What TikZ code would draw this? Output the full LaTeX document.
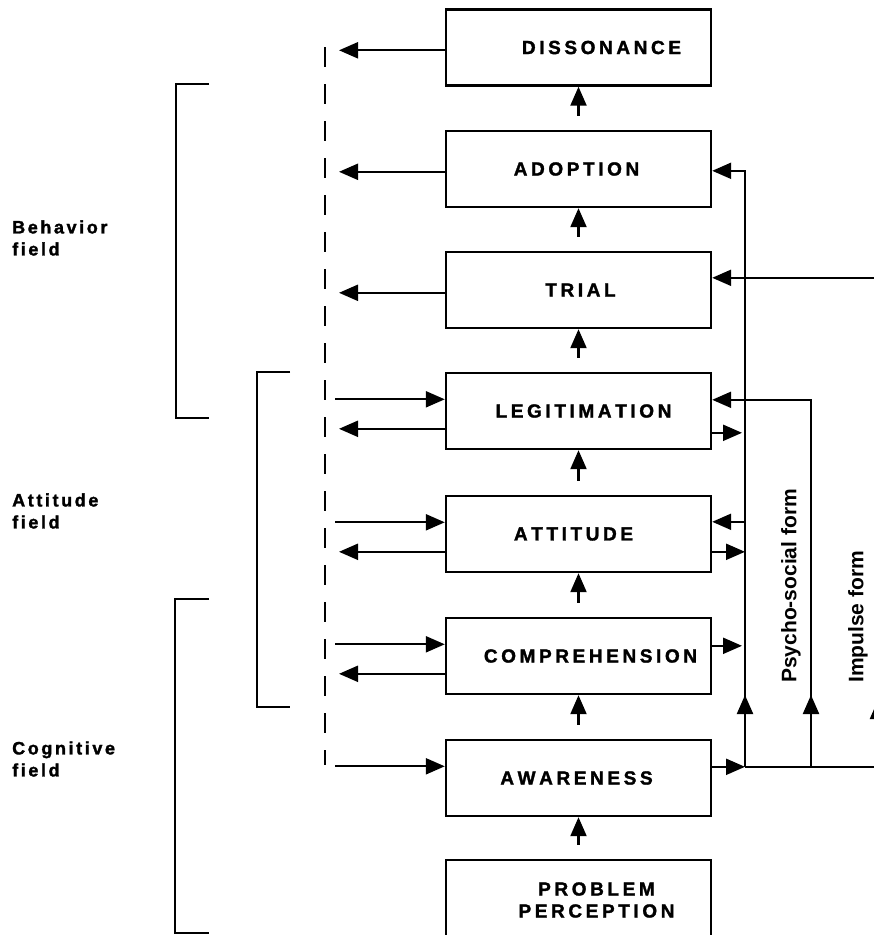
\documentclass[tikz,border=0pt]{standalone}
\usepackage{fontspec}
\setmainfont{Liberation Sans}
\newfontfamily\heavysans[UprightFont=* Bold]{Liberation Sans}
\newfontfamily\blacksans[UprightFont=* Bold, FakeBold=1.6]{Liberation Sans}
\usetikzlibrary{arrows.meta}
% spread the letters of a word apart by a fixed kern
\makeatletter
\newcommand\spreadword[2]{\@tfor\ch:=#2\do{\ch\kern#1}\unkern}
\makeatother
\newcommand\stagetext[1]{\spreadword{3.6pt}{#1}}
\newcommand\fieldtext[1]{\spreadword{2.6pt}{#1}}
\begin{document}
\begin{tikzpicture}[x=1pt, y=-1pt,
  stage/.style={draw, line width=2.4pt, minimum width=265pt, minimum height=76pt,
    inner sep=0pt, align=center, font=\blacksans\fontsize{19}{22}\selectfont},
  flow/.style={line width=2.2pt, -{Triangle[length=19pt,width=16pt]}},
  wire/.style={line width=2.2pt},
  feedback/.style={line width=2.6pt, dash pattern=on 20pt off 17pt},
  field/.style={line width=2.4pt},
  fieldname/.style={font=\blacksans\fontsize{18}{22}\selectfont,
    align=left, anchor=west, inner sep=0pt},
  formname/.style={font=\heavysans\fontsize{21}{24}\selectfont, rotate=90,
    anchor=west, inner sep=0pt},
]
\clip (0,0) rectangle (874,935);

% stages of the hierarchy
\node[stage] (dis) at (578.5,47.5) {\hspace*{46pt}\stagetext{DISSONANCE}};
\node[stage] (ado) at (578.5,169) {\stagetext{ADOPTION}\hspace*{4pt}};
\node[stage] (tri) at (578.5,290) {\hspace*{4pt}\stagetext{TRIAL}};
\node[stage] (leg) at (578.5,411) {\hspace*{10pt}\stagetext{LEGITIMATION}};
\node[stage] (att) at (578.5,534) {\stagetext{ATTITUDE}\hspace*{10pt}};
\node[stage] (com) at (578.5,656) {\hspace*{24pt}\stagetext{COMPREHENSION}};
\node[stage] (awa) at (578.5,778) {\stagetext{AWARENESS}\hspace*{4pt}};
\node[stage, minimum height=80pt] (pro) at (578.5,900)
  {\hspace*{36pt}\stagetext{PROBLEM}\\\hspace*{36pt}\stagetext{PERCEPTION}};

% upward sequence
\foreach \lo/\hi in {ado/dis,tri/ado,leg/tri,att/leg,com/att,awa/com,pro/awa}
  \draw[flow, shorten <=14pt] (\lo.north) -- (\hi.south);

% reference columns
\coordinate (lTip) at (339,0);
\coordinate (lTail) at (335,0);
\coordinate (rTip) at (742,0);
\coordinate (bus) at (745,0);
\coordinate (psy) at (811,0);
\coordinate (imp) at (878,0);
\coordinate (upA) at (0,695);
\coordinate (upB) at (0,700);
\coordinate (dashTop) at (325,47);
\coordinate (dashBot) at (325,765);

% attachment points on the box sides
\foreach \b in {dis,ado,tri}
  \path ([yshift=-42pt]\b.north west) coordinate (\b-wout);
\foreach \b in {leg,att,com,awa}
  \path ([yshift=-27.5pt]\b.north west) coordinate (\b-win);
\foreach \b in {leg,att,com}
  \path ([yshift=-57pt]\b.north west) coordinate (\b-wout);
\path ([yshift=-41pt]ado.north east) coordinate (ado-ein);
\path ([yshift=-27pt]tri.north east) coordinate (tri-ein);
\path ([yshift=-28pt]leg.north east) coordinate (leg-ein);
\path ([yshift=-61pt]leg.north east) coordinate (leg-eout);
\path ([yshift=-27pt]att.north east) coordinate (att-ein);
\path ([yshift=-57pt]att.north east) coordinate (att-eout);
\path ([yshift=-29pt]com.north east) coordinate (com-eout);
\path ([yshift=-28pt]awa.north east) coordinate (awa-eout);

% feedback line on the left
\draw[feedback] (dashTop) -- (dashBot);
\foreach \b in {dis,ado,tri,leg,att,com}
  \draw[flow] (\b-wout) -- (\b-wout -| lTip);
\foreach \b in {leg,att,com,awa}
  \draw[flow] (\b-win -| lTail) -- (\b-win);

% forms on the right
\draw[flow] (awa-eout) -- (awa-eout -| bus);
\draw[wire] (awa-eout -| bus) -- (awa-eout -| imp);
\draw[flow] (awa-eout -| bus) -- (ado-ein -| bus) -- (ado-ein);
\draw[flow] (awa-eout -| bus) -- (bus |- upA);
\draw[flow] (awa-eout -| psy) -- (leg-ein -| psy) -- (leg-ein);
\draw[flow] (awa-eout -| psy) -- (psy |- upA);
\draw[flow] (awa-eout -| imp) -- (tri-ein -| imp) -- (tri-ein);
\draw[flow] (awa-eout -| imp) -- (imp |- upB);
\draw[flow] (att-ein -| bus) -- (att-ein);
\draw[flow] (leg-eout) -- (leg-eout -| rTip);
\draw[flow] (att-eout) -- (att-eout -| bus);
\draw[flow] (com-eout) -- (com-eout -| rTip);

% field brackets
\draw[field] (209,84) -- (176,84) -- (176,418) -- (209,418);
\draw[field] (290,372) -- (257,372) -- (257,707) -- (290,707);
\draw[field] (209,599) -- (175,599) -- (175,933) -- (209,933);

% labels
\node[fieldname] (behavior) at (12,238) {\fieldtext{Behavior}\\\fieldtext{field}};
\node[fieldname] (attitude) at (12,511) {\fieldtext{Attitude}\\\fieldtext{field}};
\node[fieldname] (cognitive) at (12,759) {\fieldtext{Cognitive}\\\fieldtext{field}};
\node[formname] (psyform) at (791,683) {Psycho-social form};
\node[formname] (impform) at (858,683) {Impulse form};
\end{tikzpicture}
\end{document}
